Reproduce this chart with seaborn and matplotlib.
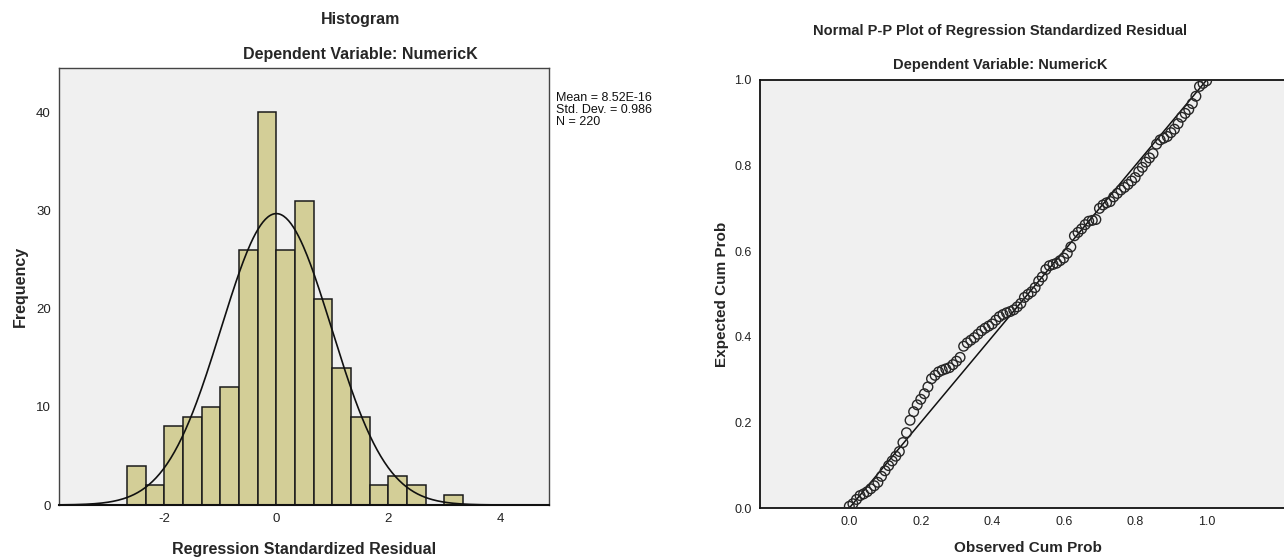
import numpy as np
import pandas as pd
import seaborn as sns
import matplotlib
matplotlib.use('Agg')
import matplotlib.pyplot as plt
from matplotlib import font_manager

# ---------------- data ----------------
# histogram of regression standardized residuals (bin width 1/3)
bin_edges = [-8/3, -7/3, -2, -5/3, -4/3, -1, -2/3, -1/3, 0, 1/3, 2/3, 1,
             4/3, 5/3, 2, 7/3, 8/3, 3, 10/3]
counts = [4, 2, 8, 9, 10, 12, 26, 40, 26, 31, 21, 14, 9, 2, 3, 2, 0, 1]
res_mean = 8.52e-16
res_sd = 0.986
res_n = 220
stats_text = "Mean = 8.52E-16\nStd. Dev. = 0.986\nN = 220"

# P-P plot: observed cum prob vs expected cum prob
observed = [i / 100 for i in range(101)]
expected = [0.004, 0.010, 0.020, 0.029, 0.033, 0.038, 0.045, 0.052, 0.060, 0.074,
            0.087, 0.099, 0.110, 0.121, 0.132, 0.153, 0.176, 0.205, 0.225, 0.241,
            0.254, 0.267, 0.283, 0.302, 0.310, 0.318, 0.322, 0.325, 0.328, 0.335,
            0.343, 0.352, 0.378, 0.386, 0.392, 0.398, 0.406, 0.414, 0.420, 0.425,
            0.430, 0.439, 0.447, 0.452, 0.456, 0.459, 0.463, 0.470, 0.478, 0.492,
            0.499, 0.505, 0.515, 0.530, 0.540, 0.557, 0.566, 0.569, 0.572, 0.578,
            0.584, 0.595, 0.610, 0.636, 0.644, 0.652, 0.662, 0.670, 0.672, 0.674,
            0.700, 0.708, 0.713, 0.716, 0.727, 0.735, 0.743, 0.749, 0.756, 0.764,
            0.772, 0.786, 0.796, 0.808, 0.818, 0.828, 0.850, 0.860, 0.864, 0.868,
            0.877, 0.885, 0.898, 0.913, 0.922, 0.931, 0.945, 0.962, 0.985, 0.992,
            0.998]

# ---------------- style ----------------
sns.set_style("white")
installed = {f.name for f in font_manager.fontManager.ttflist}
plt.rcParams['font.family'] = ['Liberation Sans', 'DejaVu Sans']
plt.rcParams['axes.unicode_minus'] = False
narrow = ['Liberation Sans Narrow', 'Liberation Sans'] if 'Liberation Sans Narrow' in installed \
    else ['Liberation Sans', 'DejaVu Sans']

bg = '#F0F0F0'
bar_col = '#D3CE97'

fig = plt.figure(figsize=(12.84, 5.59), dpi=100)

# ================= left: histogram =================
ax1 = fig.add_axes([0.046, 0.0966, 0.3816, 0.7818])
ax1.set_facecolor(bg)
centers = [(bin_edges[i] + bin_edges[i + 1]) / 2 for i in range(len(counts))]
sns.histplot(x=centers, weights=counts, bins=bin_edges, ax=ax1,
             color=bar_col, edgecolor='#1a1a1a', linewidth=1.1, alpha=1)

bw = bin_edges[1] - bin_edges[0]
xs = np.linspace(-3.88, 4.87, 400)
ys = res_n * bw * np.exp(-0.5 * ((xs - res_mean) / res_sd) ** 2) / (res_sd * np.sqrt(2 * np.pi))
sns.lineplot(x=xs, y=ys, ax=ax1, color='#111111', linewidth=1.2)

ax1.set_xlim(-3.88, 4.87)
ax1.set_ylim(0, 44.5)
ax1.set_xticks([-2, 0, 2, 4])
ax1.set_yticks([0, 10, 20, 30, 40])
ax1.tick_params(axis='both', direction='out', length=5, width=1, color='#222222',
                labelsize=9.5, labelcolor='#222222', pad=1)
ax1.set_xlabel('Regression Standardized Residual', fontsize=11.5, fontweight='bold', labelpad=12)
ax1.set_ylabel('Frequency', fontsize=11.5, fontweight='bold', labelpad=6)
for s in ax1.spines.values():
    s.set_color('#444444')
    s.set_linewidth(1.0)
ax1.spines['bottom'].set_color('#111111')
ax1.spines['bottom'].set_linewidth(1.5)

fig.text(0.281, 0.966, 'Histogram', ha='center', va='center', fontsize=11.5, fontweight='bold')
fig.text(0.281, 0.902, 'Dependent Variable: NumericK', ha='center', va='center',
         fontsize=11.5, fontweight='bold')
fig.text(0.433, 0.835, stats_text, ha='left', va='top', fontsize=9, linespacing=1.0,
         color='#111111')

# ================= right: P-P plot =================
ax2 = fig.add_axes([0.5919, 0.0912, 0.4174, 0.7657])
ax2.set_facecolor(bg)
pp = pd.DataFrame({'observed': observed, 'expected': expected})
sns.lineplot(x=[0, 1], y=[0, 1], ax=ax2, color='#111111', linewidth=1.1)
sns.scatterplot(data=pp, x='observed', y='expected', ax=ax2, marker='o', s=48,
                facecolor='none', edgecolor='#262626', linewidth=1.0, zorder=3)

ax2.set_xlim(-0.25, 1.25)
ax2.set_ylim(0, 1)
ax2.set_xticks([0, 0.2, 0.4, 0.6, 0.8, 1.0])
ax2.set_yticks([0, 0.2, 0.4, 0.6, 0.8, 1.0])
ax2.set_xticklabels(['0.0', '0.2', '0.4', '0.6', '0.8', '1.0'], family=narrow)
ax2.set_yticklabels(['0.0', '0.2', '0.4', '0.6', '0.8', '1.0'], family=narrow)
ax2.tick_params(axis='both', direction='out', length=5, width=1, color='#222222',
                labelsize=9, labelcolor='#222222', pad=1)
ax2.set_xlabel('Observed Cum Prob', fontsize=11, fontweight='bold', family=narrow, labelpad=9)
ax2.set_ylabel('Expected Cum Prob', fontsize=11, fontweight='bold', labelpad=4)
for s in ax2.spines.values():
    s.set_color('#111111')
    s.set_linewidth(1.3)

fig.text(0.779, 0.944, 'Normal P-P Plot of Regression Standardized Residual', ha='center',
         va='center', fontsize=10.5, fontweight='bold', family=narrow)
fig.text(0.779, 0.884, 'Dependent Variable: NumericK', ha='center', va='center',
         fontsize=10.5, fontweight='bold', family=narrow)

fig.savefig('out.png', dpi=100, facecolor='white')
